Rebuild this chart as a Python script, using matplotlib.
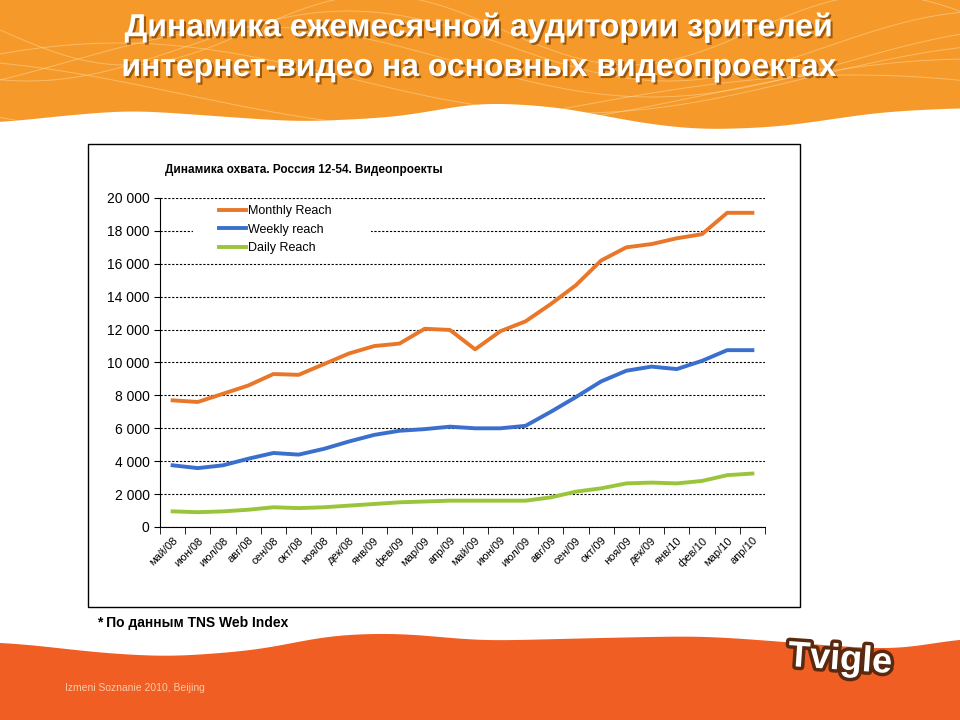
import numpy as np
import matplotlib.pyplot as plt
import matplotlib.patheffects as pe
from matplotlib.patches import Rectangle, Polygon

plt.rcParams['font.family'] = ['Liberation Sans', 'DejaVu Sans']

# data (thousands of viewers)
months = ['май/08', 'июн/08', 'июл/08', 'авг/08', 'сен/08', 'окт/08', 'ноя/08', 'дек/08',
          'янв/09', 'фев/09', 'мар/09', 'апр/09', 'май/09', 'июн/09', 'июл/09', 'авг/09',
          'сен/09', 'окт/09', 'ноя/09', 'дек/09', 'янв/10', 'фев/10', 'мар/10', 'апр/10']
monthly = [7700, 7600, 8100, 8600, 9300, 9250, 9900, 10550, 11000, 11150, 12050, 11980,
           10800, 11900, 12500, 13550, 14700, 16200, 17000, 17200, 17550, 17800, 19100, 19100]
weekly = [3750, 3580, 3750, 4150, 4500, 4400, 4750, 5200, 5600, 5850, 5950, 6100,
          6000, 6000, 6150, 7000, 7900, 8850, 9500, 9750, 9600, 10100, 10750, 10750]
daily = [950, 900, 950, 1050, 1200, 1150, 1200, 1300, 1400, 1500, 1550, 1600,
         1600, 1600, 1600, 1800, 2150, 2350, 2650, 2700, 2650, 2800, 3150, 3250]
yticks = list(range(0, 20001, 2000))


def smooth_edge(xs, px, py, w=25):
    # linear through the key points, then a gaussian blur so the wave is soft
    y = np.interp(xs, px, py)
    k = np.exp(-0.5 * (np.arange(-3 * w, 3 * w + 1) / w) ** 2)
    k /= k.sum()
    ypad = np.r_[np.full(3 * w, y[0]), y, np.full(3 * w, y[-1])]
    return np.convolve(ypad, k, mode='valid')


fig = plt.figure(figsize=(9.6, 7.2), dpi=100)

# background decoration
bg = fig.add_axes([0, 0, 1, 1])
bg.set_xlim(0, 960)
bg.set_ylim(720, 0)
bg.axis('off')
xs = np.arange(0, 961)
top_edge = smooth_edge(xs, [0, 50, 130, 200, 300, 400, 480, 560, 640, 700, 780, 880, 960],
                       [123, 117, 110, 115, 122, 117, 102, 107, 123, 130, 127, 112, 108])
top_band = Polygon(np.column_stack([np.r_[xs, 960, 0], np.r_[top_edge, 0, 0]]),
                   closed=True, color='#F59A2A', lw=0)
bg.add_patch(top_band)
for k in range(6):
    yy = 30 + 16 * k + 35 * np.sin(xs / (80 + 22 * k) + 1.3 * k)
    ln, = bg.plot(xs, yy, color='#FFE2B0', alpha=0.45, lw=0.7)
    ln.set_clip_path(top_band)
bot_edge = smooth_edge(xs, [0, 50, 100, 170, 260, 330, 400, 480, 600, 700, 760, 820, 900, 960],
                       [642, 647, 653, 657, 650, 635, 633, 641, 638, 636, 640, 645, 650, 638])
bg.add_patch(Polygon(np.column_stack([np.r_[xs, 960, 0], np.r_[bot_edge, 720, 720]]),
                     closed=True, color='#F05E23', lw=0))
bg.add_patch(Rectangle((88, 144), 712, 463, facecolor='white', edgecolor='black', lw=1))

title_fx = [pe.withSimplePatchShadow(offset=(1.5, -1.5), shadow_rgbFace='#7a3d00', alpha=0.7)]
bg.text(480, 28, 'Динамика ежемесячной аудитории зрителей', ha='center', va='center',
        fontsize=23, fontweight='bold', color='white', path_effects=title_fx)
bg.text(480, 68, 'интернет-видео на основных видеопроектах', ha='center', va='center',
        fontsize=23, fontweight='bold', color='white', path_effects=title_fx)
bg.text(165, 170, 'Динамика охвата. Россия 12-54. Видеопроекты', ha='left', va='center',
        fontsize=8.5, fontweight='bold')
bg.text(97, 623, '* По данным TNS Web Index', ha='left', va='center', fontsize=10, fontweight='bold')
bg.text(65, 688, 'Izmeni Soznanie 2010, Beijing', ha='left', va='center', fontsize=7.5,
        color='#FBC9A6')
bg.text(840, 660, 'Tvigle', ha='center', va='center', fontsize=26, fontweight='bold', color='white',
        rotation=-4, path_effects=[pe.withStroke(linewidth=5, foreground='#5a2a10')])

# chart
ax = fig.add_axes([160 / 960, 1 - 527 / 720, 605 / 960, 329 / 720])
x = np.arange(len(months))
ax.plot(x, monthly, color='#E8772A', lw=2.8, label='Monthly Reach', zorder=3)
ax.plot(x, weekly, color='#3B6FCE', lw=2.8, label='Weekly reach', zorder=3)
ax.plot(x, daily, color='#9AC53A', lw=2.8, label='Daily Reach', zorder=3)

ax.set_xlim(-0.5, len(months) - 0.5)
ax.set_ylim(0, 20000)
ax.set_yticks(yticks)
ax.set_yticklabels([f'{v:,}'.replace(',', ' ') for v in yticks], fontsize=10)
ax.set_xticks(x)
ax.set_xticklabels(months, rotation=45, ha='right', rotation_mode='anchor', fontsize=8)
ax.set_xticks(np.arange(-0.5, len(months), 1), minor=True)
ax.tick_params(axis='x', which='major', length=0, pad=6)
ax.tick_params(axis='x', which='minor', length=5, direction='out')
ax.tick_params(axis='y', length=4, direction='out')
ax.grid(axis='y', color='black', ls=(0, (2, 1.5)), lw=0.8)
ax.set_axisbelow(True)
for s in ['top', 'right']:
    ax.spines[s].set_visible(False)
ax.add_patch(Rectangle((0.055, 0.875), 0.293, 0.04, transform=ax.transAxes,
                       color='white', zorder=1.5, lw=0))
ax.legend(loc='upper left', bbox_to_anchor=(0.085, 1.0), frameon=False, fontsize=9,
          handlelength=2.2, handletextpad=0.15, labelspacing=0.5, borderaxespad=0.2)

fig.savefig('out.png', dpi=100)
